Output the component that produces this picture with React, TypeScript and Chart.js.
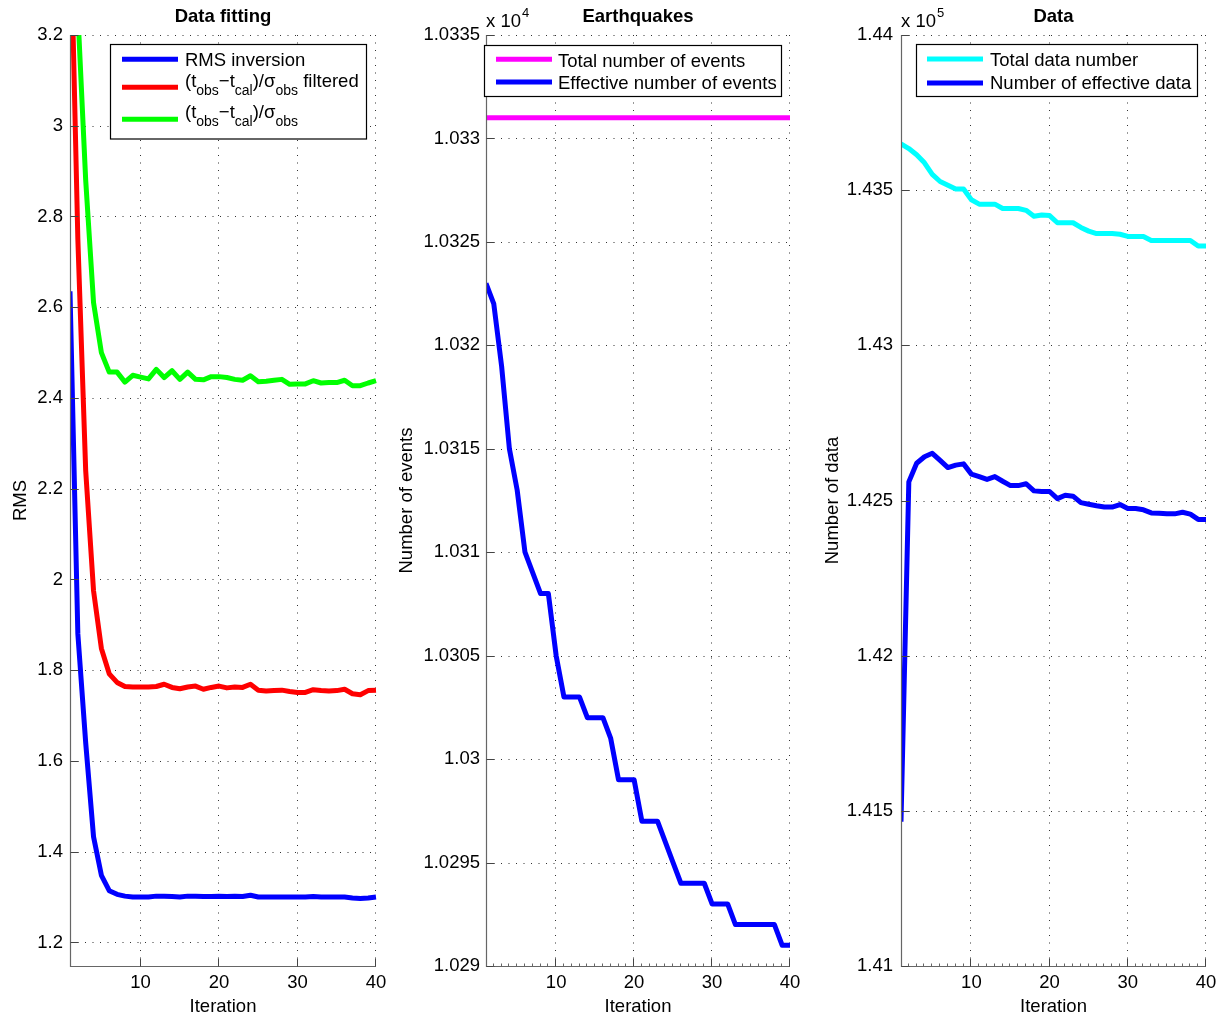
import React, { useEffect, useRef } from "react";
import { Chart, registerables } from "chart.js";

Chart.register(...registerables);

const FONT = '"Liberation Sans", Arial, Helvetica, sans-serif';
const FS = 18.5;
const W = 1229;
const H = 1018;

// ---------------- data ----------------
const iterations = [
  1, 2, 3, 4, 5, 6, 7, 8, 9, 10, 11, 12, 13, 14, 15, 16, 17, 18, 19, 20,
  21, 22, 23, 24, 25, 26, 27, 28, 29, 30, 31, 32, 33, 34, 35, 36, 37, 38, 39, 40,
];

const rmsInversion = [
  2.635, 1.88, 1.64, 1.433, 1.348, 1.314, 1.306, 1.302, 1.3, 1.3,
  1.3, 1.302, 1.302, 1.301, 1.3, 1.302, 1.302, 1.301, 1.301, 1.302,
  1.301, 1.302, 1.301, 1.304, 1.3, 1.3, 1.3, 1.3, 1.3, 1.3,
  1.3, 1.301, 1.3, 1.3, 1.3, 1.3, 1.298, 1.297, 1.298, 1.3,
];

const residualFiltered = [
  3.5, 2.75, 2.24, 1.975, 1.848, 1.792, 1.773, 1.764, 1.763, 1.763,
  1.763, 1.764, 1.769, 1.762, 1.759, 1.763, 1.765, 1.758, 1.762, 1.765,
  1.761, 1.763, 1.762, 1.769, 1.756, 1.754, 1.755, 1.756, 1.753, 1.751,
  1.751, 1.757, 1.755, 1.754, 1.755, 1.758, 1.748, 1.746, 1.755, 1.756,
];

const residualAll = [
  4.0, 3.25, 2.88, 2.61, 2.5, 2.457, 2.457, 2.435, 2.45, 2.446,
  2.442, 2.463, 2.445, 2.46, 2.441, 2.457, 2.441, 2.44, 2.447, 2.447,
  2.445, 2.441, 2.439, 2.449, 2.436, 2.437, 2.439, 2.441, 2.43, 2.431,
  2.431, 2.438, 2.433, 2.434, 2.434, 2.439, 2.427, 2.427, 2.433, 2.438,
];

const totalEvents = [
  10331, 10331, 10331, 10331, 10331, 10331, 10331, 10331, 10331, 10331,
  10331, 10331, 10331, 10331, 10331, 10331, 10331, 10331, 10331, 10331,
  10331, 10331, 10331, 10331, 10331, 10331, 10331, 10331, 10331, 10331,
  10331, 10331, 10331, 10331, 10331, 10331, 10331, 10331, 10331, 10331,
];

const effectiveEvents = [
  10323, 10322, 10319, 10315, 10313, 10310, 10309, 10308, 10308, 10305,
  10303, 10303, 10303, 10302, 10302, 10302, 10301, 10299, 10299, 10299,
  10297, 10297, 10297, 10296, 10295, 10294, 10294, 10294, 10294, 10293,
  10293, 10293, 10292, 10292, 10292, 10292, 10292, 10292, 10291, 10291,
];

const totalData = [
  143649, 143634, 143614, 143588, 143551, 143528, 143516, 143504, 143504, 143469,
  143455, 143455, 143455, 143441, 143441, 143441, 143435, 143416, 143420, 143418,
  143395, 143395, 143395, 143380, 143368, 143360, 143360, 143360, 143358, 143351,
  143351, 143351, 143338, 143338, 143338, 143338, 143338, 143338, 143320, 143320,
];

const effectiveData = [
  141465, 142560, 142620, 142641, 142652, 142629, 142606, 142614, 142618, 142585,
  142577, 142568, 142577, 142562, 142548, 142548, 142554, 142531, 142529, 142529,
  142506, 142517, 142514, 142493, 142488, 142483, 142479, 142479, 142487, 142474,
  142474, 142470, 142460, 142459, 142457, 142457, 142462, 142456, 142439, 142439,
];

const xTicks = [10, 20, 30, 40];
const rmsTicks = [1.2, 1.4, 1.6, 1.8, 2, 2.2, 2.4, 2.6, 2.8, 3, 3.2];
const eventTicks = [10290, 10295, 10300, 10305, 10310, 10315, 10320, 10325, 10330, 10335];
const dataTicks = [141000, 141500, 142000, 142500, 143000, 143500, 144000];

// ---------------- panel definitions ----------------
type Seg = { t: string; sub?: boolean };
type Series = { label: string; color: string; values: number[]; legend: Seg[] };

interface PanelDef {
  title: string;
  yTitle: string;
  exponent?: string;
  series: Series[];
  yMin: number;
  yMax: number;
  yTicks: number[];
  yScaleDiv: number;
  yDecimals: number;
  plotLeft: number;
  plotRight: number;
  padLeft: number;
  yTitlePad: number;
  yLabelPad: number;
  minorTicks: boolean;
  legendBox: { x: number; y: number; w: number; h: number };
  legendSample: [number, number];
  legendTextX: number;
  legendSampleY: number[];
  legendBaseline: number[];
}

const panels: PanelDef[] = [
  {
    title: "Data fitting",
    yTitle: "RMS",
    series: [
      { label: "RMS inversion", color: "#0000ff", values: rmsInversion, legend: [{ t: "RMS inversion" }] },
      {
        label: "(tobs−tcal)/σobs filtered",
        color: "#ff0000",
        values: residualFiltered,
        legend: [{ t: "(t" }, { t: "obs", sub: true }, { t: "−t" }, { t: "cal", sub: true }, { t: ")/σ" }, { t: "obs", sub: true }, { t: " filtered" }],
      },
      {
        label: "(tobs−tcal)/σobs",
        color: "#00ff00",
        values: residualAll,
        legend: [{ t: "(t" }, { t: "obs", sub: true }, { t: "−t" }, { t: "cal", sub: true }, { t: ")/σ" }, { t: "obs", sub: true }],
      },
    ],
    yMin: 1.148,
    yMax: 3.2,
    yTicks: rmsTicks,
    yScaleDiv: 1,
    yDecimals: 1,
    plotLeft: 70,
    plotRight: 376,
    padLeft: 0,
    yTitlePad: 9.5,
    yLabelPad: 7,
    minorTicks: false,
    legendBox: { x: 110.5, y: 44.5, w: 256, h: 94.5 },
    legendSample: [122, 178],
    legendTextX: 185,
    legendSampleY: [59.3, 87.3, 119.3],
    legendBaseline: [66, 86.7, 118.3],
  },
  {
    title: "Earthquakes",
    yTitle: "Number of events",
    exponent: "4",
    series: [
      { label: "Total number of events", color: "#ff00ff", values: totalEvents, legend: [{ t: "Total number of events" }] },
      { label: "Effective number of events", color: "#0000ff", values: effectiveEvents, legend: [{ t: "Effective number of events" }] },
    ],
    yMin: 10290,
    yMax: 10335,
    yTicks: eventTicks,
    yScaleDiv: 1e4,
    yDecimals: 5,
    plotLeft: 486,
    plotRight: 790,
    padLeft: 390,
    yTitlePad: 5.5,
    yLabelPad: 6,
    minorTicks: true,
    legendBox: { x: 484.5, y: 45.5, w: 297, h: 51 },
    legendSample: [496, 552],
    legendTextX: 558,
    legendSampleY: [59.3, 82],
    legendBaseline: [66.5, 89],
  },
  {
    title: "Data",
    yTitle: "Number of data",
    exponent: "5",
    series: [
      { label: "Total data number", color: "#00ffff", values: totalData, legend: [{ t: "Total data number" }] },
      { label: "Number of effective data", color: "#0000ff", values: effectiveData, legend: [{ t: "Number of effective data" }] },
    ],
    yMin: 141000,
    yMax: 144000,
    yTicks: dataTicks,
    yScaleDiv: 1e5,
    yDecimals: 4,
    plotLeft: 901,
    plotRight: 1206,
    padLeft: 815,
    yTitlePad: 6.5,
    yLabelPad: 8,
    minorTicks: true,
    legendBox: { x: 916.5, y: 44.5, w: 281, h: 52 },
    legendSample: [927, 983],
    legendTextX: 990,
    legendSampleY: [59, 83],
    legendBaseline: [66, 89],
  },
];

const PLOT_TOP = 35;
const PLOT_BOTTOM = 966;
const AXIS_COLOR = "#666666";
const GRID_COLOR = "#333333";
const LINE_W = 5;

function drawRich(ctx: CanvasRenderingContext2D, x: number, baseline: number, segs: Seg[]) {
  let cx = x;
  ctx.textAlign = "left";
  ctx.textBaseline = "alphabetic";
  ctx.fillStyle = "#000";
  for (const s of segs) {
    if (s.sub) {
      ctx.font = `14px ${FONT}`;
      ctx.fillText(s.t, cx, baseline + 8);
    } else {
      ctx.font = `${FS}px ${FONT}`;
      ctx.fillText(s.t, cx, baseline);
    }
    cx += ctx.measureText(s.t).width;
  }
}

function makeFramePlugin(p: PanelDef, idx: number) {
  return {
    id: "frame" + idx,
    beforeDatasetsDraw(chart: any) {
      const { ctx, chartArea: a, scales } = chart;
      const xs = scales.x;
      const ys = scales.y;
      ctx.save();
      ctx.strokeStyle = GRID_COLOR;
      ctx.lineWidth = 1;
      ctx.setLineDash([1, 6.5]);
      for (const v of p.yTicks) {
        const yp = ys.getPixelForValue(v);
        if (Math.abs(yp - a.bottom) < 2) continue;
        const y = Math.round(yp) + 0.5;
        ctx.beginPath();
        ctx.moveTo(a.left, y);
        ctx.lineTo(a.right, y);
        ctx.stroke();
      }
      for (const v of xTicks) {
        const xp = xs.getPixelForValue(v);
        if (Math.abs(xp - a.left) < 2) continue;
        const x = Math.round(xp) - 0.5;
        ctx.beginPath();
        ctx.moveTo(x, a.bottom);
        ctx.lineTo(x, a.top);
        ctx.stroke();
      }
      ctx.restore();
    },
    afterDatasetsDraw(chart: any) {
      const { ctx, chartArea: a, scales } = chart;
      const xs = scales.x;
      const ys = scales.y;
      ctx.save();
      // axes
      ctx.setLineDash([]);
      ctx.strokeStyle = AXIS_COLOR;
      ctx.lineWidth = 1.2;
      const lx = Math.round(a.left) + 0.5;
      const by = Math.round(a.bottom) + 0.5;
      ctx.beginPath();
      ctx.moveTo(lx, a.top);
      ctx.lineTo(lx, by);
      ctx.lineTo(a.right, by);
      ctx.stroke();
      // major ticks (inward)
      ctx.strokeStyle = "#444";
      ctx.lineWidth = 1;
      for (const v of p.yTicks) {
        const y = Math.round(ys.getPixelForValue(v)) + 0.5;
        ctx.beginPath();
        ctx.moveTo(lx, y);
        ctx.lineTo(lx + 8, y);
        ctx.stroke();
      }
      for (const v of xTicks) {
        const x = Math.round(xs.getPixelForValue(v)) - 0.5;
        ctx.beginPath();
        ctx.moveTo(x, by);
        ctx.lineTo(x, by - 8);
        ctx.stroke();
      }
      if (p.minorTicks) {
        ctx.strokeStyle = "#666";
        for (const v of iterations) {
          if (v === 1 || xTicks.includes(v)) continue;
          const x = Math.round(xs.getPixelForValue(v)) - 0.5;
          ctx.beginPath();
          ctx.moveTo(x, by);
          ctx.lineTo(x, by - 3);
          ctx.stroke();
        }
      }
      // legend
      const lb = p.legendBox;
      ctx.fillStyle = "#ffffff";
      ctx.fillRect(lb.x, lb.y, lb.w, lb.h);
      ctx.strokeStyle = "#000";
      ctx.lineWidth = 1.2;
      ctx.strokeRect(lb.x, lb.y, lb.w, lb.h);
      p.series.forEach((s, i) => {
        ctx.strokeStyle = s.color;
        ctx.lineWidth = LINE_W;
        ctx.beginPath();
        ctx.moveTo(p.legendSample[0], p.legendSampleY[i]);
        ctx.lineTo(p.legendSample[1], p.legendSampleY[i]);
        ctx.stroke();
        drawRich(ctx, p.legendTextX, p.legendBaseline[i], s.legend);
      });
      // title
      ctx.fillStyle = "#000";
      ctx.font = `bold ${FS}px ${FONT}`;
      ctx.textAlign = "center";
      ctx.textBaseline = "alphabetic";
      ctx.fillText(p.title, (a.left + a.right) / 2, 21.5);
      // exponent
      if (p.exponent) {
        ctx.textAlign = "left";
        ctx.font = `${FS}px ${FONT}`;
        const base = "x 10";
        ctx.fillText(base, a.left, 26.5);
        const w = ctx.measureText(base).width;
        ctx.font = `13px ${FONT}`;
        ctx.fillText(p.exponent, a.left + w + 1, 17);
      }
      ctx.restore();
    },
  };
}

function makeConfig(p: PanelDef, idx: number): any {
  const tickFont = { family: FONT, size: FS };
  return {
    type: "line",
    data: {
      datasets: p.series.map((s) => ({
        label: s.label,
        data: iterations.map((x, i) => ({ x, y: s.values[i] })),
        borderColor: s.color,
        backgroundColor: s.color,
        borderWidth: LINE_W,
        pointRadius: 0,
        tension: 0,
        fill: false,
        borderJoinStyle: "round",
        clip: { left: 0, top: 0, right: 3, bottom: 3 },
      })),
    },
    options: {
      animation: false,
      responsive: false,
      devicePixelRatio: 1,
      events: [],
      layout: {
        padding: { left: p.padLeft, right: W - p.plotRight, top: PLOT_TOP, bottom: 0 },
      },
      plugins: {
        legend: { display: false },
        title: { display: false },
        tooltip: { enabled: false },
      },
      scales: {
        x: {
          type: "linear",
          position: "bottom",
          min: 1,
          max: 40,
          afterBuildTicks: (scale: any) => {
            scale.ticks = xTicks.map((value) => ({ value }));
          },
          afterFit: (scale: any) => {
            scale.height = H - PLOT_BOTTOM;
          },
          ticks: {
            autoSkip: false,
            maxRotation: 0,
            padding: 6,
            font: tickFont,
            color: "#000",
            callback: (v: any) => String(v),
          },
          grid: { display: false, drawTicks: false },
          border: { display: false },
          title: {
            display: true,
            text: "Iteration",
            font: tickFont,
            color: "#000",
            padding: { top: 0, bottom: 0 },
          },
        },
        y: {
          type: "linear",
          position: "left",
          min: p.yMin,
          max: p.yMax,
          afterBuildTicks: (scale: any) => {
            scale.ticks = p.yTicks.map((value) => ({ value }));
          },
          afterFit: (scale: any) => {
            scale.width = p.plotLeft - p.padLeft;
          },
          ticks: {
            autoSkip: false,
            padding: p.yLabelPad,
            font: tickFont,
            color: "#000",
            callback: (v: any) => String(+(Number(v) / p.yScaleDiv).toFixed(p.yDecimals)),
          },
          grid: { display: false, drawTicks: false },
          border: { display: false },
          title: {
            display: true,
            text: p.yTitle,
            font: tickFont,
            color: "#000",
            padding: { top: p.yTitlePad, bottom: 0 },
          },
        },
      },
    },
    plugins: [makeFramePlugin(p, idx)],
  };
}

function PanelCanvas({ def, idx }: { def: PanelDef; idx: number }) {
  const ref = useRef<HTMLCanvasElement | null>(null);
  useEffect(() => {
    if (!ref.current) return;
    const chart = new Chart(ref.current, makeConfig(def, idx));
    return () => chart.destroy();
  }, [def, idx]);
  return (
    <canvas
      ref={ref}
      width={W}
      height={H}
      style={{ position: "absolute", left: 0, top: 0, width: W, height: H }}
    />
  );
}

export default function App() {
  return (
    <div
      style={{
        position: "fixed",
        left: 0,
        top: 0,
        width: W,
        height: H,
        background: "#ffffff",
        overflow: "hidden",
      }}
    >
      {panels.map((p, i) => (
        <PanelCanvas key={i} def={p} idx={i} />
      ))}
    </div>
  );
}
